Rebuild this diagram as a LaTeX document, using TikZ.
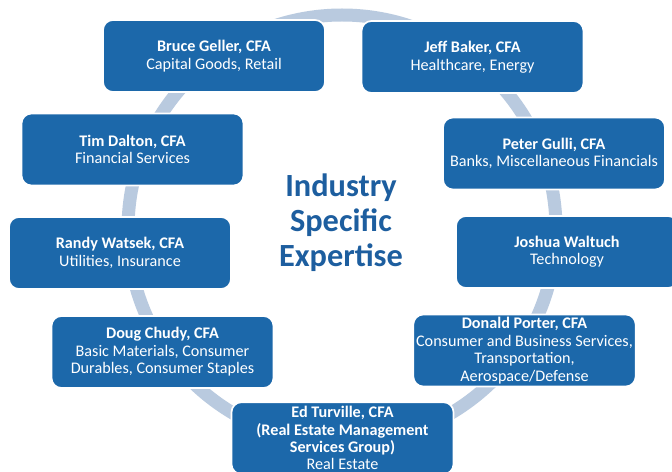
\documentclass[tikz,border=0pt]{standalone}
\usepackage{fontspec}
\setmainfont{Carlito}
\definecolor{Ring}{HTML}{B9CADF}
\definecolor{Tile}{HTML}{1C68AA}
\definecolor{Heading}{HTML}{1D5E9F}
\tikzset{analyst/.style={rectangle,rounded corners=0.25cm,draw=white,line width=1.2pt,fill=Tile,text=white,minimum width=5.55cm,minimum height=1.8cm,align=center,inner sep=2pt,font=\fontsize{11.5}{12.4}\selectfont},ring/.style={draw=Ring,line width=0.325cm}}
\begin{document}
\begin{tikzpicture}[x=1cm,y=1cm]
\useasboundingbox (0,0) rectangle (16.8,11.775);
\fill[white] (0,0) rectangle (16.8,11.775);
\coordinate (hub) at (8.55,6.05);\draw[ring] (hub) circle[radius=5.35];
\node[text=Heading,font=\bfseries\fontsize{23}{24.8}\selectfont,align=center] (title) at (8.525,6.2) {Industry\\Specific\\Expertise};
\node[analyst] (bruce) at (5.35,10.375) {\textbf{Bruce Geller, CFA}\\Capital Goods, Retail};\node[analyst] (jeff) at (11.8125,10.35) {\textbf{Jeff Baker, CFA}\\Healthcare, Energy};
\node[analyst] (tim) at (3.3125,8.0375) {\textbf{Tim Dalton, CFA}\\Financial Services};\node[analyst] (peter) at (13.85,7.9375) {\textbf{Peter Gulli, CFA}\\Banks, Miscellaneous Financials};
\node[analyst] (randy) at (3.0,5.45) {\textbf{Randy Watsek, CFA}\\Utilities, Insurance};\node[analyst] (joshua) at (14.175,5.475) {\textbf{Joshua Waltuch}\\Technology};
\node[analyst] (doug) at (4.0625,2.975) {\textbf{Doug Chudy, CFA}\\Basic Materials, Consumer\\Durables, Consumer Staples};\node[analyst] (donald) at (13.1125,3.0125) {\textbf{Donald Porter, CFA}\\Consumer and Business Services,\\Transportation,\\Aerospace/Defense};
\node[analyst] (ed) at (8.5625,0.82) {\textbf{Ed Turville, CFA}\\\textbf{(Real Estate Management}\\\textbf{Services Group)}\\Real Estate};
\end{tikzpicture}
\end{document}
